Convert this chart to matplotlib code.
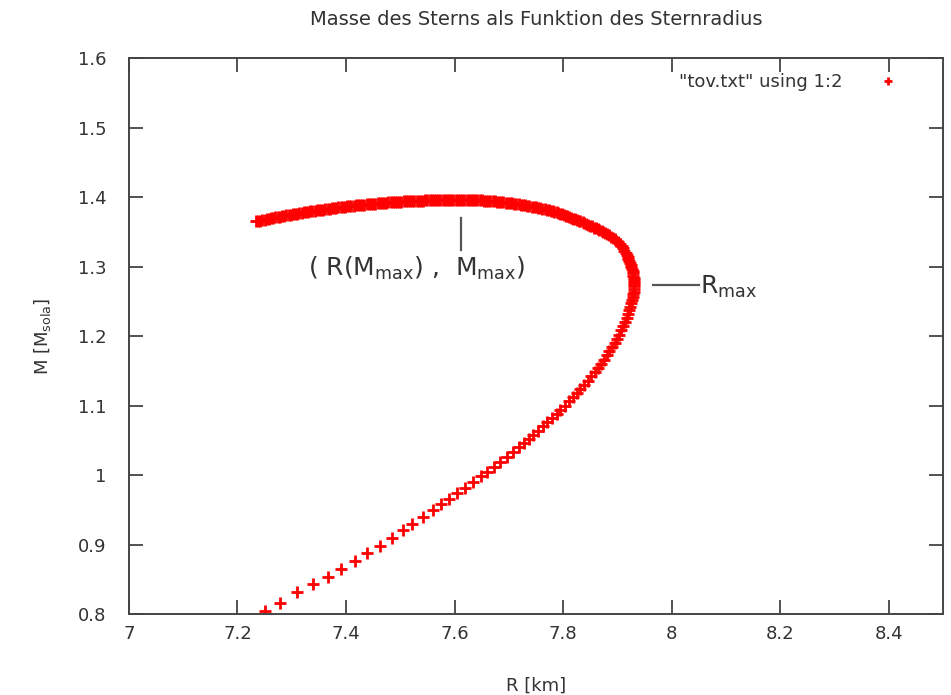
#mass-radius relation of a neutron star (TOV), gnuplot look
import matplotlib.pyplot as plt

# lower branch, markers spread out
r_low = [7.250, 7.278, 7.309, 7.339, 7.366, 7.391, 7.416, 7.438, 7.462, 7.484,
         7.505, 7.522, 7.542, 7.560, 7.575,
         7.589, 7.604, 7.619, 7.634, 7.648, 7.660, 7.672, 7.684, 7.696, 7.707,
         7.718, 7.727, 7.737, 7.745, 7.754, 7.763, 7.771, 7.779, 7.788, 7.795,
         7.803, 7.811, 7.818, 7.825, 7.832, 7.839, 7.845, 7.852, 7.858, 7.864,
         7.869, 7.875, 7.880, 7.885, 7.890, 7.895, 7.899, 7.903, 7.907, 7.911,
         7.914, 7.917, 7.920, 7.922, 7.924, 7.926, 7.927, 7.928, 7.929, 7.930,
         7.930, 7.930]
m_low = [0.804, 0.816, 0.831, 0.843, 0.854, 0.865, 0.876, 0.888, 0.898, 0.910,
         0.921, 0.930, 0.939, 0.950, 0.958,
         0.966, 0.974, 0.982, 0.990, 0.998, 1.005, 1.012, 1.019, 1.026, 1.033,
         1.040, 1.046, 1.052, 1.058, 1.064, 1.070, 1.076, 1.082, 1.088, 1.094,
         1.100, 1.106, 1.112, 1.118, 1.124, 1.130, 1.136, 1.142, 1.148, 1.154,
         1.160, 1.166, 1.172, 1.178, 1.184, 1.190, 1.196, 1.202, 1.208, 1.214,
         1.220, 1.226, 1.232, 1.237, 1.242, 1.247, 1.252, 1.256, 1.260, 1.264,
         1.268, 1.272]

# turn above R_max, dense
r_turn = [7.930, 7.930, 7.930, 7.930, 7.929, 7.928, 7.928, 7.927, 7.926, 7.925,
          7.923, 7.922, 7.920, 7.919, 7.917, 7.916, 7.913, 7.911, 7.908, 7.904,
          7.901, 7.898, 7.895, 7.891, 7.888, 7.884, 7.880, 7.877, 7.874, 7.871,
          7.867, 7.864, 7.860, 7.857, 7.853, 7.850, 7.846, 7.843, 7.839, 7.836,
          7.832, 7.829, 7.825, 7.822, 7.818, 7.815, 7.811, 7.808, 7.805, 7.802,
          7.798, 7.795, 7.791, 7.788, 7.784, 7.781]
m_turn = [1.275, 1.278, 1.281, 1.284, 1.287, 1.290, 1.293, 1.296, 1.299, 1.302,
          1.305, 1.308, 1.311, 1.314, 1.317, 1.320, 1.323, 1.326, 1.329, 1.332,
          1.335, 1.337, 1.339, 1.341, 1.343, 1.345, 1.347, 1.348, 1.350, 1.351,
          1.353, 1.354, 1.355, 1.356, 1.358, 1.359, 1.360, 1.361, 1.363, 1.364,
          1.365, 1.366, 1.367, 1.368, 1.369, 1.370, 1.371, 1.372, 1.373, 1.374,
          1.375, 1.376, 1.377, 1.378, 1.379, 1.380]

# top arc, right of M_max (R falling)
r_top = [7.778, 7.774, 7.770, 7.766, 7.762, 7.758, 7.754, 7.750, 7.746, 7.742,
         7.738, 7.734, 7.730, 7.726, 7.722, 7.718, 7.714, 7.710, 7.706, 7.702,
         7.698, 7.694, 7.690, 7.686, 7.682, 7.678, 7.674, 7.670, 7.666, 7.662,
         7.658, 7.654, 7.650, 7.646, 7.642, 7.638, 7.634, 7.630, 7.626, 7.622,
         7.618, 7.614, 7.610]
m_top = [1.3803, 1.3811, 1.3818, 1.3825, 1.3832, 1.3838, 1.3845, 1.3851, 1.3857, 1.3863,
         1.3869, 1.3875, 1.3880, 1.3885, 1.3890, 1.3895, 1.3900, 1.3904, 1.3909, 1.3913,
         1.3917, 1.3921, 1.3924, 1.3928, 1.3931, 1.3934, 1.3937, 1.3940, 1.3943, 1.3945,
         1.3947, 1.3949, 1.3951, 1.3953, 1.3954, 1.3956, 1.3957, 1.3958, 1.3959, 1.3959,
         1.3960, 1.3960, 1.3960]

# top arc, left of M_max, ends at the last star
r_left = [7.606, 7.602, 7.598, 7.594, 7.590, 7.586, 7.582, 7.578, 7.574, 7.570,
          7.566, 7.562, 7.558, 7.554, 7.550, 7.546, 7.542, 7.538, 7.534, 7.530,
          7.526, 7.522, 7.518, 7.514, 7.510, 7.506, 7.502, 7.498, 7.494, 7.490,
          7.486, 7.482, 7.478, 7.474, 7.470, 7.466, 7.462, 7.458, 7.454, 7.450,
          7.446, 7.442, 7.438, 7.434, 7.430, 7.426, 7.422, 7.418, 7.414, 7.410,
          7.406, 7.402, 7.398, 7.394, 7.390, 7.386, 7.382, 7.378, 7.374, 7.370,
          7.366, 7.362, 7.358, 7.354, 7.350, 7.346, 7.342, 7.338, 7.334, 7.330,
          7.326, 7.322, 7.318, 7.314, 7.310, 7.306, 7.302, 7.298, 7.294, 7.290,
          7.286, 7.282, 7.278, 7.274, 7.270, 7.266, 7.262, 7.258, 7.254, 7.250,
          7.246, 7.242, 7.238, 7.234]
m_left = [1.3960, 1.3960, 1.3960, 1.3959, 1.3959, 1.3959, 1.3958, 1.3958, 1.3957, 1.3956,
          1.3956, 1.3955, 1.3954, 1.3953, 1.3952, 1.3951, 1.3950, 1.3949, 1.3947, 1.3946,
          1.3944, 1.3943, 1.3941, 1.3940, 1.3938, 1.3936, 1.3934, 1.3932, 1.3930, 1.3928,
          1.3926, 1.3924, 1.3922, 1.3919, 1.3917, 1.3914, 1.3912, 1.3909, 1.3906, 1.3904,
          1.3901, 1.3898, 1.3895, 1.3892, 1.3889, 1.3886, 1.3882, 1.3879, 1.3875, 1.3872,
          1.3868, 1.3865, 1.3861, 1.3857, 1.3854, 1.3850, 1.3846, 1.3842, 1.3837, 1.3833,
          1.3829, 1.3825, 1.3820, 1.3816, 1.3811, 1.3807, 1.3802, 1.3797, 1.3792, 1.3788,
          1.3783, 1.3778, 1.3772, 1.3767, 1.3762, 1.3757, 1.3751, 1.3746, 1.3740, 1.3735,
          1.3729, 1.3723, 1.3718, 1.3712, 1.3706, 1.3700, 1.3694, 1.3687, 1.3681, 1.3675,
          1.3669, 1.3662, 1.3656, 1.3649]

R = r_low + r_turn + r_top + r_left
M = m_low + m_turn + m_top + m_left

xticks = [7, 7.2, 7.4, 7.6, 7.8, 8, 8.2, 8.4]
xlabels = ["7", "7.2", "7.4", "7.6", "7.8", "8", "8.2", "8.4"]
yticks = [0.8, 0.9, 1, 1.1, 1.2, 1.3, 1.4, 1.5, 1.6]
ylabels = ["0.8", "0.9", "1", "1.1", "1.2", "1.3", "1.4", "1.5", "1.6"]

r_mmax = 7.611
r_max = 7.93
m_rmax = 1.273

grey = "#333333"
fig = plt.figure(figsize=(9.51, 6.95), dpi=100)
ax = fig.add_axes([0.1356, 0.1165, 0.856, 0.8])

ax.plot(R, M, "+", color="#ff0000", ms=8, mew=2.0, ls="none",
        label='"tov.txt" using 1:2')

ax.set_xlim(7, 8.5)
ax.set_ylim(0.8, 1.6)
ax.set_xticks(xticks)
ax.set_xticklabels(xlabels)
ax.set_yticks(yticks)
ax.set_yticklabels(ylabels)
ax.tick_params(direction="in", length=10, width=1.3, color="#444444",
               top=True, right=True, labelsize=13, labelcolor=grey)
ax.tick_params(axis="y", pad=16)
ax.tick_params(axis="x", pad=8)
for s in ax.spines.values():
    s.set_color("#444444")
    s.set_linewidth(1.4)

ax.set_title("Masse des Sterns als Funktion des Sternradius", fontsize=14,
             color=grey, pad=24)
ax.set_xlabel("R [km]", fontsize=13, color=grey, labelpad=24)
ax.set_ylabel("M [M$_{\\mathrm{sola}}$]", fontsize=13, color=grey, labelpad=18)

# annotations
ax.plot([r_mmax, r_mmax], [1.324, 1.370], color="#555555", lw=1.6)
ax.text(7.33, 1.297, "( R(M$_{\\mathrm{max}}$) ,  M$_{\\mathrm{max}}$)",
        fontsize=18, color=grey, va="center", ha="left")
ax.plot([r_max + 0.035, r_max + 0.12], [m_rmax, m_rmax], color="#555555", lw=1.6)
ax.text(8.052, m_rmax - 0.003, "R$_{\\mathrm{max}}$", fontsize=18, color=grey,
        va="center", ha="left")

ax.legend(loc="upper right", bbox_to_anchor=(0.963, 0.9856), borderaxespad=0,
          frameon=False, markerfirst=False, fontsize=13, handlelength=2,
          handletextpad=1.5, labelcolor=grey, markerscale=0.8)

plt.savefig("out.png")
